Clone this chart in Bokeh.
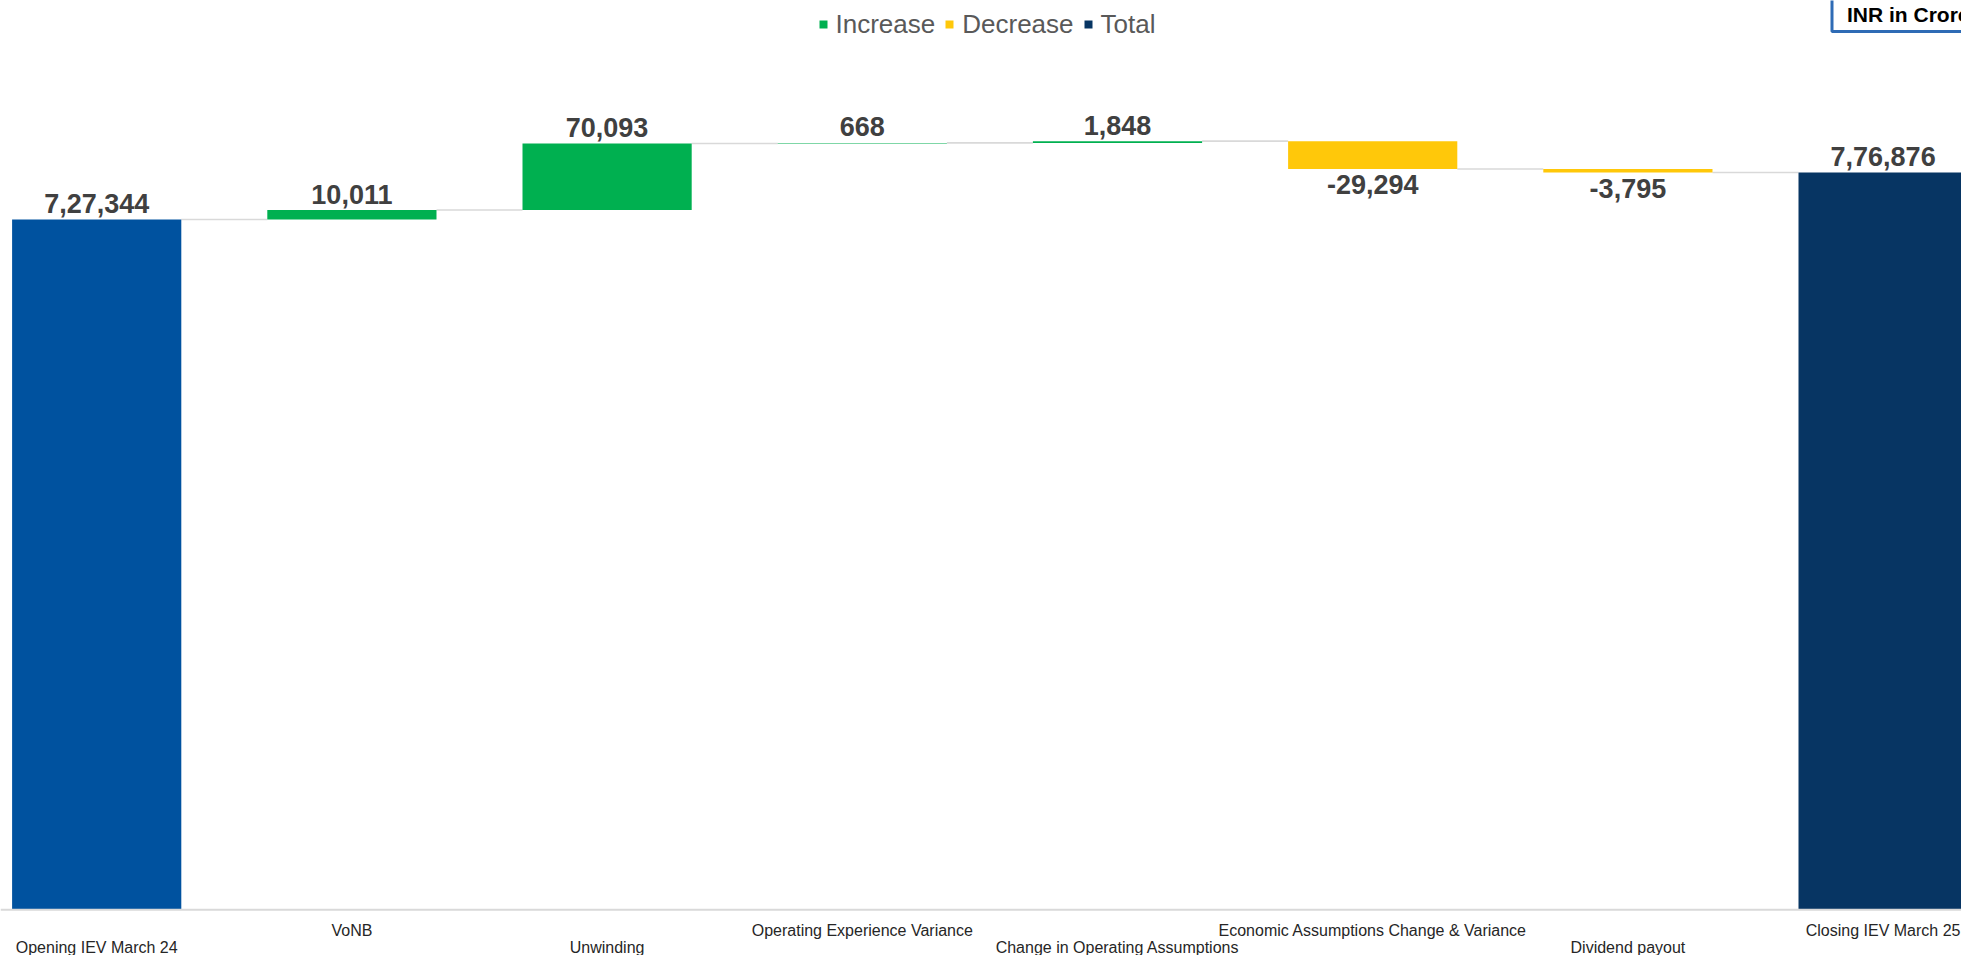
from bokeh.plotting import figure
from bokeh.models import ColumnDataSource, Range1d, Legend, LegendItem, Label, Span
from bokeh.embed import file_html
from bokeh.resources import INLINE
from bokeh.core.properties import value

# ---------------- data ----------------
categories = ["Opening IEV March 24", "VoNB", "Unwinding", "Operating Experience Variance",
              "Change in Operating Assumptions", "Economic Assumptions Change & Variance",
              "Dividend payout", "Closing IEV March 25"]
amounts = [727344, 10011, 70093, 668, 1848, -29294, -3795, 776876]
kinds = ["total", "change", "change", "change", "change", "change", "change", "total"]
legend_labels = ["Increase", "Decrease", "Total"]
unit_note = "INR in Crores"

# ---------------- styling ----------------
C_OPEN = "#00529F"
C_CLOSE = "#073563"
C_INC = "#00B050"
C_DEC = "#FFC80A"
C_LINE = "#D9D9D9"
FONT = "Liberation Sans"

W, H = 1961, 955
STEP_PX = 255.2          # pixels per category
CENTER0_PX = 96.2        # first category centre from the frame left
BAR_W = 0.663
PX_PER_UNIT = 0.000949
ZERO_FROM_BOTTOM = 45.7  # px between frame bottom and y = 0
X0 = -CENTER0_PX / STEP_PX
Y0 = -ZERO_FROM_BOTTOM / PX_PER_UNIT


def inr(v):
    s = str(abs(v))
    if len(s) > 3:
        head, tail = s[:-3], s[-3:]
        parts = []
        while len(head) > 2:
            parts.insert(0, head[-2:])
            head = head[:-2]
        if head:
            parts.insert(0, head)
        s = ",".join(parts + [tail])
    return ("-" if v < 0 else "") + s


# running totals
idx = list(range(len(categories)))
bottoms, tops, ends = [], [], []
run = 0
for a, k in zip(amounts, kinds):
    if k == "total":
        b, t = 0, a
        run = a
    else:
        b, t = min(run, run + a), max(run, run + a)
        run = run + a
    bottoms.append(b)
    tops.append(t)
    ends.append(run)

p = figure(width=W, height=H, output_backend="svg", toolbar_location=None,
           x_range=Range1d(X0, X0 + W / STEP_PX),
           y_range=Range1d(Y0, Y0 + H / PX_PER_UNIT),
           x_axis_location=None, y_axis_location=None,
           min_border=0, min_border_left=0, min_border_right=0,
           min_border_top=0, min_border_bottom=0)
p.outline_line_color = None
p.xgrid.visible = False
p.ygrid.visible = False

# baseline
p.add_layout(Span(location=0, dimension="width", line_color=C_LINE, line_width=2))

# connectors
cx0 = [i + BAR_W / 2 for i in idx[:-1]]
cx1 = [i + 1 - BAR_W / 2 for i in idx[:-1]]
cy = ends[:-1]
p.segment(x0=cx0, y0=cy, x1=cx1, y1=cy, line_color=C_LINE, line_width=1.6)

inc_i = [i for i in idx if kinds[i] == "change" and amounts[i] > 0]
dec_i = [i for i in idx if kinds[i] == "change" and amounts[i] < 0]
tot_i = [i for i in idx if kinds[i] == "total"]


def src(ids):
    return ColumnDataSource(dict(x=ids, bottom=[bottoms[i] for i in ids],
                                 top=[tops[i] for i in ids]))


r_inc = p.vbar(x="x", bottom="bottom", top="top", width=BAR_W, source=src(inc_i),
               fill_color=C_INC, line_color=None)
r_dec = p.vbar(x="x", bottom="bottom", top="top", width=BAR_W, source=src(dec_i),
               fill_color=C_DEC, line_color=None)
tot_src = src(tot_i)
tot_src.data["color"] = [C_OPEN if i == 0 else C_CLOSE for i in tot_i]
r_tot = p.vbar(x="x", bottom="bottom", top="top", width=BAR_W, source=tot_src,
               fill_color="color", line_color=None)

# value labels
up_i = [i for i in idx if amounts[i] >= 0]
dn_i = [i for i in idx if amounts[i] < 0]
p.text(x=up_i, y=[tops[i] for i in up_i], text=[inr(amounts[i]) for i in up_i],
       text_font=value(FONT), text_font_style="bold", text_font_size="27px",
       text_color="#404040", text_align="center", text_baseline="alphabetic", y_offset=-16)
p.text(x=dn_i, y=[bottoms[i] for i in dn_i], text=[inr(amounts[i]) for i in dn_i],
       text_font=value(FONT), text_font_style="bold", text_font_size="27px",
       text_color="#404040", text_align="center", text_baseline="alphabetic", y_offset=16)

# category labels (staggered)
odd = [i for i in idx if i % 2 == 1]
even = [i for i in idx if i % 2 == 0]
p.text(x=odd, y=[0] * len(odd), text=[categories[i] for i in odd],
       text_font=value(FONT), text_font_size="16px", text_color="#262626",
       text_align="center", text_baseline="alphabetic", y_offset=21)
p.text(x=even, y=[0] * len(even), text=[categories[i] for i in even],
       text_font=value(FONT), text_font_size="16px", text_color="#262626",
       text_align="center", text_baseline="alphabetic", y_offset=38)

# legend
legend = Legend(items=[LegendItem(label=legend_labels[0], renderers=[r_inc]),
                       LegendItem(label=legend_labels[1], renderers=[r_dec]),
                       LegendItem(label=legend_labels[2], renderers=[r_tot], index=1)],
                orientation="horizontal", location=(817.5, 915.5),
                glyph_width=10, glyph_height=10, label_standoff=8, spacing=9,
                padding=0, margin=0, border_line_color=None, background_fill_alpha=0,
                label_text_font=FONT, label_text_font_size="26px", label_text_color="#595959")
p.add_layout(legend)

# unit note box
note = Label(x=1831.5, y=924, x_units="screen", y_units="screen", text=unit_note,
             text_font=FONT, text_font_style="bold", text_font_size="21px", text_color="#000000",
             text_align="left", text_baseline="bottom",
             border_line_color="#2E6BB5", border_line_width=3,
             background_fill_color="white", padding=(15, 8, 15, 6))
p.add_layout(note)

open("out.html", "w").write(file_html(p, INLINE))
